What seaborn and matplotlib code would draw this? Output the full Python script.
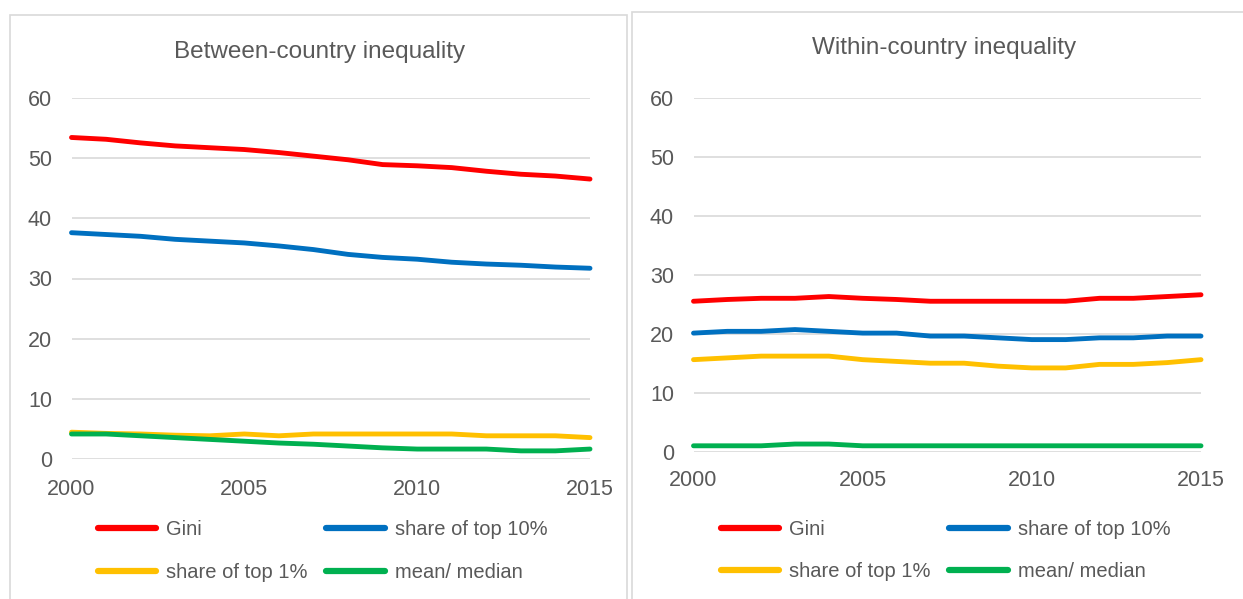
import pandas as pd
import matplotlib.pyplot as plt
import seaborn as sns
from matplotlib.patches import Rectangle

# Series values, one value per year 2000-2015
years = list(range(2000, 2016))
series_names = ["Gini", "share of top 10%", "share of top 1%", "mean/ median"]

between_gini = [53.4, 53.1, 52.5, 52.0, 51.7, 51.4, 50.9, 50.3, 49.7, 48.9, 48.7, 48.4, 47.8, 47.3, 47.0, 46.5]
between_top10 = [37.6, 37.3, 37.0, 36.5, 36.2, 35.9, 35.4, 34.8, 34.0, 33.5, 33.2, 32.7, 32.4, 32.2, 31.9, 31.7]
between_top1 = [4.5, 4.3, 4.2, 4.0, 3.9, 4.2, 3.9, 4.2, 4.2, 4.2, 4.2, 4.2, 3.9, 3.9, 3.9, 3.6]
between_ratio = [4.2, 4.2, 3.9, 3.6, 3.3, 3.0, 2.7, 2.5, 2.2, 1.9, 1.7, 1.7, 1.7, 1.4, 1.4, 1.7]

within_gini = [25.5, 25.8, 26.0, 26.0, 26.3, 26.0, 25.8, 25.5, 25.5, 25.5, 25.5, 25.5, 26.0, 26.0, 26.3, 26.6]
within_top10 = [20.1, 20.4, 20.4, 20.7, 20.4, 20.1, 20.1, 19.6, 19.6, 19.3, 19.0, 19.0, 19.3, 19.3, 19.6, 19.6]
within_top1 = [15.6, 15.9, 16.2, 16.2, 16.2, 15.6, 15.3, 15.0, 15.0, 14.5, 14.2, 14.2, 14.8, 14.8, 15.1, 15.6]
within_ratio = [1.0, 1.0, 1.0, 1.3, 1.3, 1.0, 1.0, 1.0, 1.0, 1.0, 1.0, 1.0, 1.0, 1.0, 1.0, 1.0]

colors = ["#ff0000", "#0070c0", "#ffc000", "#00b050"]
xticks = [2000, 2005, 2010, 2015]
yticks = [0, 10, 20, 30, 40, 50, 60]


def long_frame(values):
    rows = []
    for name, vals in zip(series_names, values):
        for y, v in zip(years, vals):
            rows.append({"year": y, "series": name, "value": v})
    return pd.DataFrame(rows)


between = long_frame([between_gini, between_top10, between_top1, between_ratio])
within = long_frame([within_gini, within_top10, within_top1, within_ratio])

sns.set_style("white")
plt.rcParams["font.family"] = ["Liberation Sans", "DejaVu Sans"]
grey = "#595959"

W, H = 1243, 599
fig = plt.figure(figsize=(W / 100, H / 100), dpi=100)


def px_rect(x0, y0, x1, y1):
    # pixel box (top-left origin) -> figure fraction [left, bottom, width, height]
    return [x0 / W, 1 - y1 / H, (x1 - x0) / W, (y1 - y0) / H]


# panel frames
for x0, y0, x1, y1 in [(9.5, 15, 627, 640), (632, 11.5, 1260, 640)]:
    l, b, w, h = px_rect(x0, y0, x1, y1)
    fig.patches.append(Rectangle((l, b), w, h, transform=fig.transFigure,
                                 fill=False, edgecolor="#d9d9d9", lw=1.2))

panels = [
    (between, "Between-country inequality", (71.5, 97.7, 590, 459.3), (320, 52), (98, 551), 14),
    (within, "Within-country inequality", (693.5, 97.7, 1201, 451.7), (944, 48), (721, 550.5), 13),
]

for df, title, box, tpos, lpos, xpad in panels:
    ax = fig.add_axes(px_rect(*box))
    sns.lineplot(data=df, x="year", y="value", hue="series", palette=colors,
                 hue_order=series_names, lw=3.5, ax=ax)
    for line in ax.get_lines():
        line.set_clip_on(False)
        line.set_solid_capstyle("round")
    ax.set_xlim(2000, 2015)
    ax.set_ylim(0, 60)
    ax.set_xticks(xticks)
    ax.set_yticks(yticks)
    ax.set_xlabel("")
    ax.set_ylabel("")
    ax.grid(axis="y", color="#d9d9d9", lw=1.2)
    ax.set_axisbelow(True)
    for s in ax.spines.values():
        s.set_visible(False)
    ax.tick_params(axis="y", length=0, pad=14, labelsize=15.5, labelcolor=grey)
    ax.tick_params(axis="x", length=0, pad=xpad, labelsize=15.5, labelcolor=grey)

    fig.text(tpos[0] / W, 1 - tpos[1] / H, title, ha="center", va="center",
             fontsize=17.5, color=grey)

    h, l = ax.get_legend_handles_labels()
    order = [0, 2, 1, 3]
    for hh in h:
        hh.set_linewidth(4.5)
    ax.legend([h[i] for i in order], [l[i] for i in order], ncol=2,
              loc="center left", bbox_to_anchor=(lpos[0] / W, 1 - lpos[1] / H),
              bbox_transform=fig.transFigure, frameon=False, borderpad=0,
              borderaxespad=0, handlelength=2.9, handletextpad=0.5,
              columnspacing=0.9, labelspacing=1.15, fontsize=14.5, labelcolor=grey)

fig.savefig("out.png", dpi=100)
